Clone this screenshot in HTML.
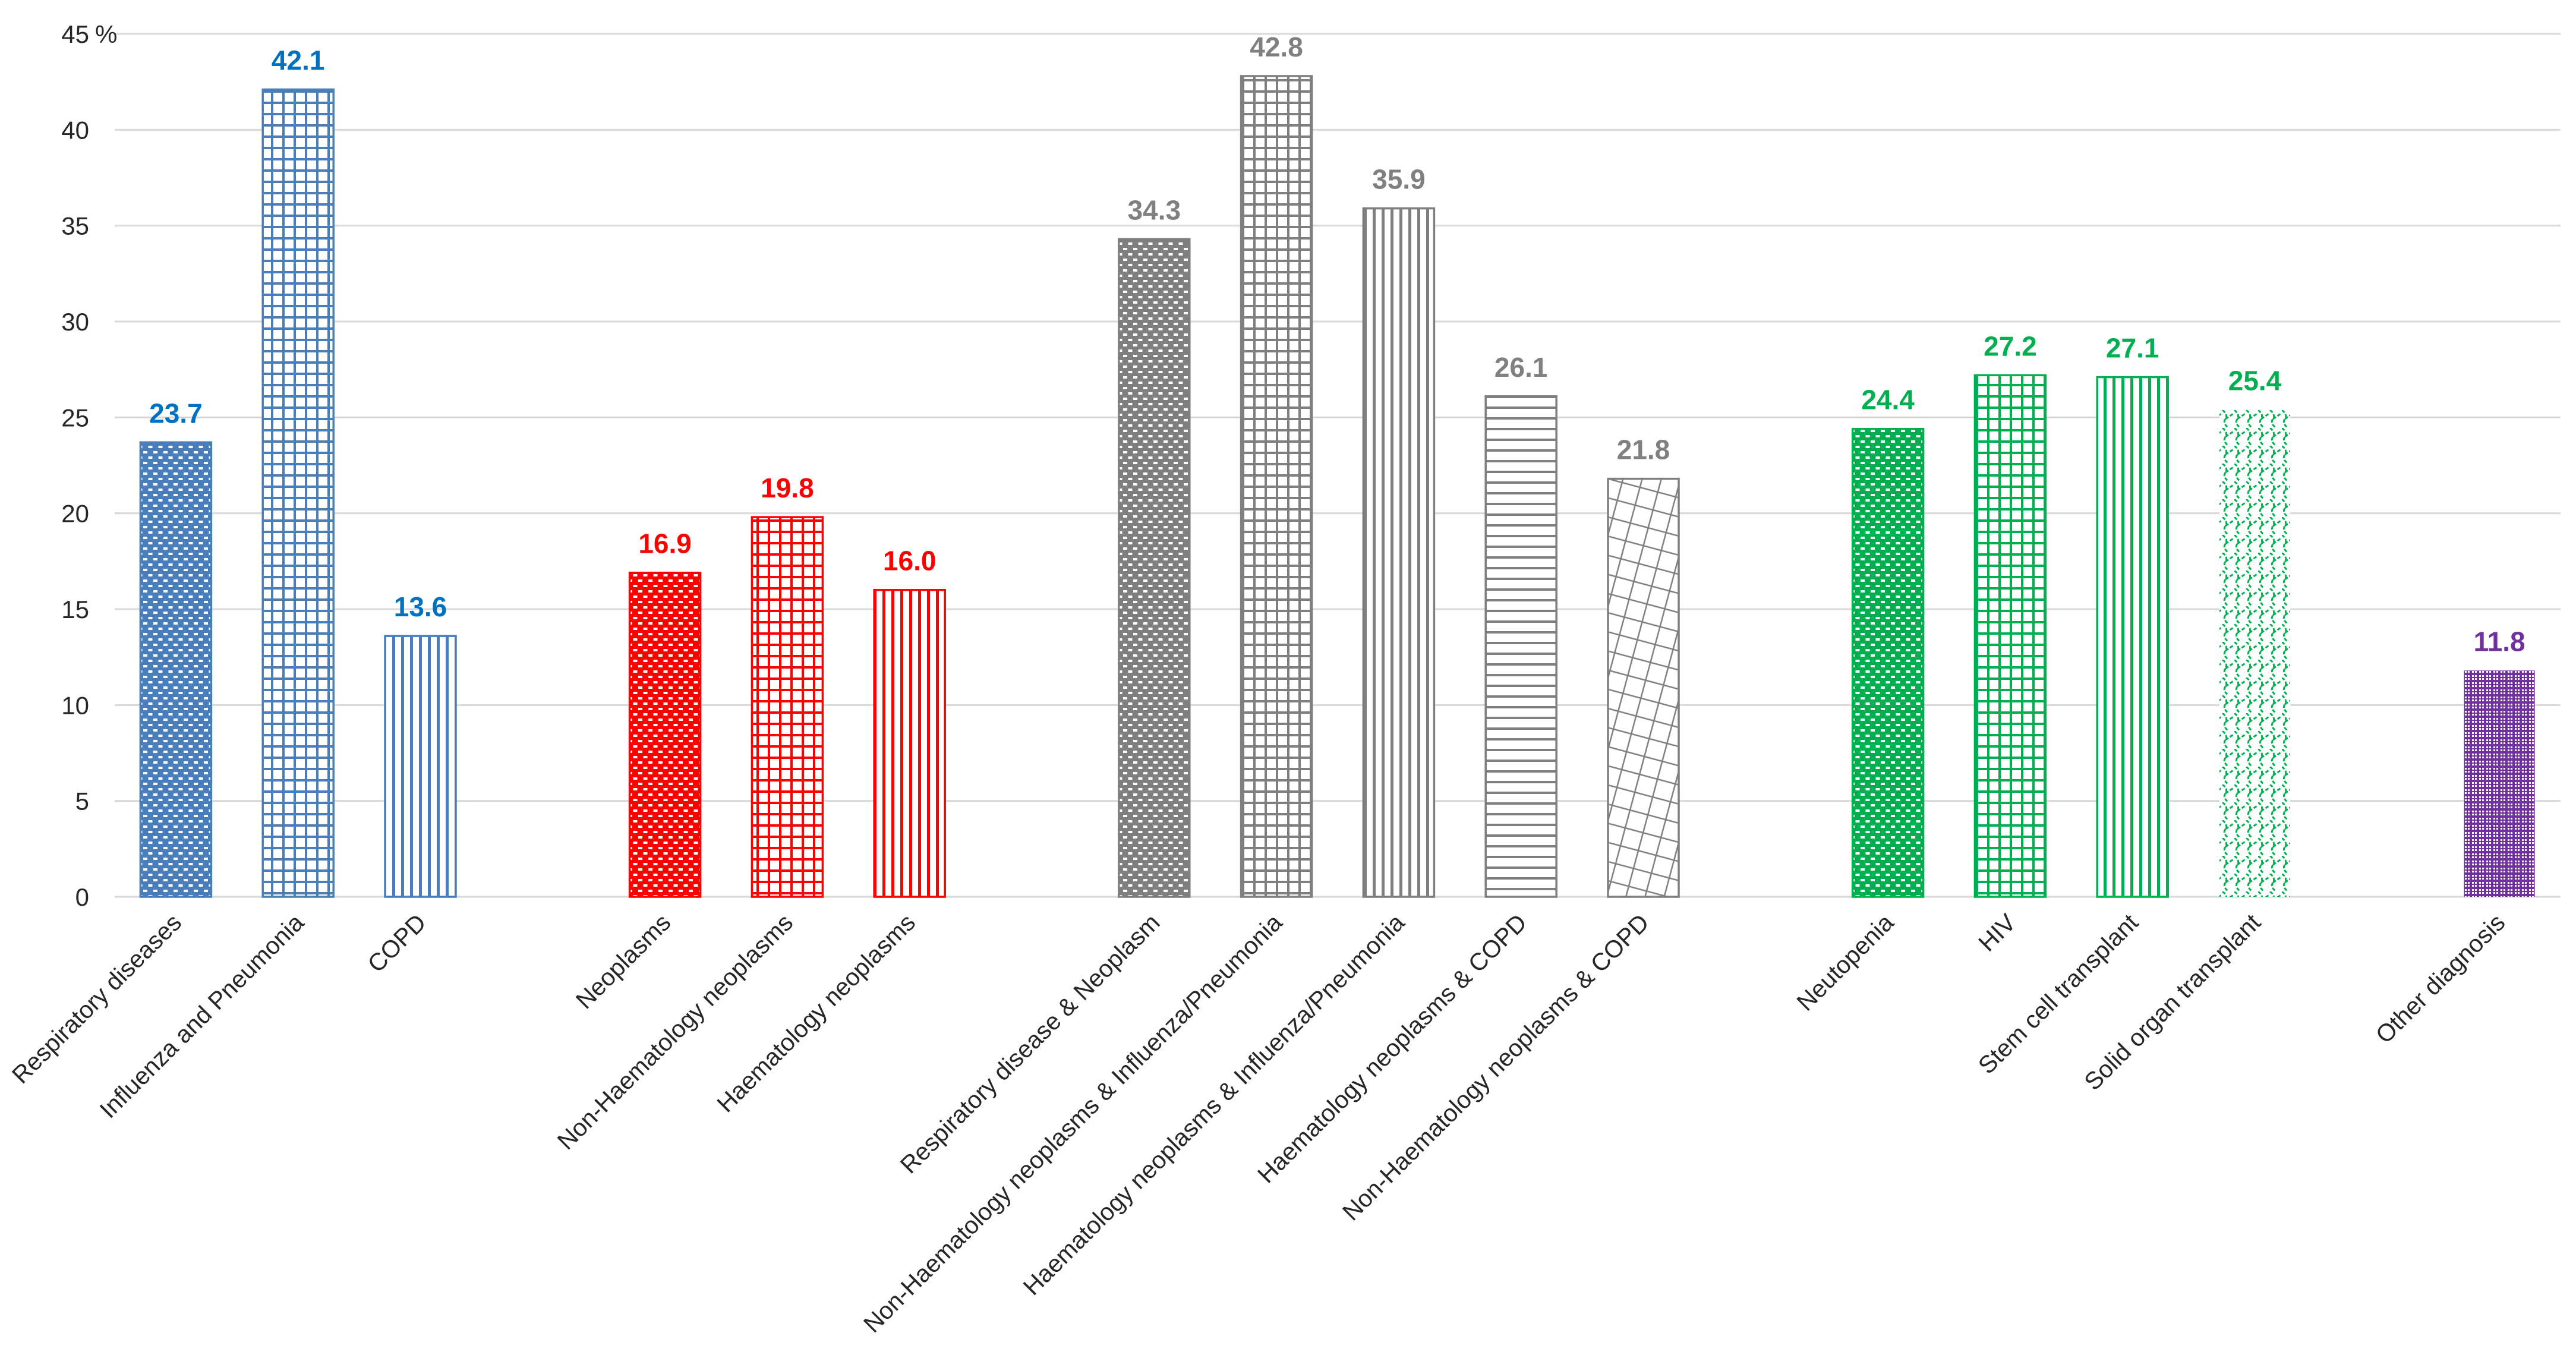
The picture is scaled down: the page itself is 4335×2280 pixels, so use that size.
<!DOCTYPE html>
<html><head><meta charset="utf-8"><style>
html,body{margin:0;padding:0;background:#fff;}
svg{display:block;font-family:"Liberation Sans",sans-serif;}
</style></head><body>
<svg id="chart" width="4335" height="2280" viewBox="0 0 4335 2280" xmlns="http://www.w3.org/2000/svg">
<defs id="defs"></defs>
<g id="grid"></g>
<g id="yaxis"></g>
<g id="bars"></g>
<g id="vlabels"></g>
<g id="xaxis"></g>
</svg>
<script>
const categories = ["Respiratory diseases","Influenza and Pneumonia","COPD","Neoplasms","Non-Haematology neoplasms","Haematology neoplasms","Respiratory disease & Neoplasm","Non-Haematology neoplasms & Influenza/Pneumonia","Haematology neoplasms & Influenza/Pneumonia","Haematology neoplasms & COPD","Non-Haematology neoplasms & COPD","Neutopenia","HIV","Stem cell transplant","Solid organ transplant","Other diagnosis"];
const values = [23.7,42.1,13.6,16.9,19.8,16.0,34.3,42.8,35.9,26.1,21.8,24.4,27.2,27.1,25.4,11.8];
const groups = [0,0,0,1,1,1,2,2,2,2,2,3,3,3,3,4];
const patterns = ["dots","grid","vert","dots","grid","vert","dots","grid","vert","horiz","lattice","dots","grid","vert","wave","diamond"];
const yTicks = [0,5,10,15,20,25,30,35,40,45];
const groupColors = ["#4a7ebb","#ff0000","#7f7f7f","#00b050","#7030a0"];
const labelColors = ["#0070c0","#ff0000","#808080","#00b050","#7030a0"];

const NS="http://www.w3.org/2000/svg";
const x0=193, slotW=205.8, barW=119, y0=1509, yMax=45, yTop=57;
function y(v){return y0-(v/yMax)*(y0-yTop);}
function slot(i){return i+groups[i];}
function xc(i){return x0+slotW*(slot(i)+0.5);}
function mk(tag,attrs,parent){const e=document.createElementNS(NS,tag);for(const k in attrs)e.setAttribute(k,attrs[k]);parent.appendChild(e);return e;}
const defs=document.getElementById('defs');

function makePattern(id,type,c){
  let p;
  if(type==="dots"){
    p=mk('pattern',{id:id,width:17,height:18,patternUnits:'userSpaceOnUse'},defs);
    mk('rect',{width:17,height:18,fill:c},p);
    mk('rect',{x:3,y:3,width:7,height:4,fill:'#fff'},p);
    mk('rect',{x:11.5,y:12,width:7,height:4,fill:'#fff'},p);
    mk('rect',{x:-5.5,y:12,width:7,height:4,fill:'#fff'},p);
  } else if(type==="grid"){
    p=mk('pattern',{id:id,width:19,height:19,patternUnits:'userSpaceOnUse'},defs);
    mk('rect',{width:19,height:19,fill:'#fff'},p);
    mk('rect',{x:0,y:0,width:19,height:4,fill:c},p);
    mk('rect',{x:0,y:0,width:4,height:19,fill:c},p);
  } else if(type==="vert"){
    p=mk('pattern',{id:id,width:15,height:15,patternUnits:'userSpaceOnUse'},defs);
    mk('rect',{width:15,height:15,fill:'#fff'},p);
    mk('rect',{x:0,y:0,width:5,height:15,fill:c},p);
  } else if(type==="horiz"){
    p=mk('pattern',{id:id,width:18,height:18,patternUnits:'userSpaceOnUse'},defs);
    mk('rect',{width:18,height:18,fill:'#fff'},p);
    mk('rect',{x:0,y:0,width:18,height:4,fill:c},p);
  } else if(type==="lattice"){
    p=mk('pattern',{id:id,width:44,height:44,patternUnits:'userSpaceOnUse',patternTransform:'rotate(-30)'},defs);
    mk('rect',{width:44,height:44,fill:'#fff'},p);
    mk('path',{d:'M0 22 L22 0 L44 22 L22 44 Z',fill:'none',stroke:c,'stroke-width':2.5},p);
  } else if(type==="wave"){
    p=mk('pattern',{id:id,width:40,height:30,patternUnits:'userSpaceOnUse'},defs);
    mk('rect',{width:40,height:30,fill:'#fff'},p);
    mk('path',{d:'M0 0 Q10 8 5 15 Q0 22 10 30 M20 0 Q30 8 25 15 Q20 22 30 30 M5 15 L20 5 M25 15 L40 5',fill:'none',stroke:c,'stroke-width':3,'stroke-dasharray':'6 3'},p);
  } else {
    p=mk('pattern',{id:id,width:12,height:12,patternUnits:'userSpaceOnUse'},defs);
    mk('rect',{width:12,height:12,fill:c},p);
    mk('rect',{x:1,y:1,width:3,height:3,fill:'#fff'},p);
    mk('rect',{x:8,y:1,width:3,height:3,fill:'#fff'},p);
    mk('rect',{x:1,y:8,width:3,height:3,fill:'#fff'},p);
    mk('rect',{x:8,y:8,width:3,height:3,fill:'#fff'},p);
  }
}

const grid=document.getElementById('grid'), yaxis=document.getElementById('yaxis');
const plotRight=x0+slotW*20;
yTicks.forEach(t=>{
  const gl=mk('line',{x1:x0,x2:plotRight,y1:y(t),y2:y(t),stroke:'#d9d9d9','stroke-width':3},grid);
  
  
  const tx=mk('text',{x:150,y:y(t)+15,'font-size':42,fill:'#262626','text-anchor':'end'},yaxis);
  tx.textContent=String(t);
  
  
  if(t===yMax){
    const pc=mk('text',{x:160,y:y(t)+15,'font-size':42,fill:'#262626'},yaxis);
    pc.textContent='%';
    
    
  }
});

const bars=document.getElementById('bars'), vl=document.getElementById('vlabels'), xa=document.getElementById('xaxis');
values.forEach((v,i)=>{
  const c=groupColors[groups[i]];
  const pid='pat'+i;
  makePattern(pid,patterns[i],c);
  const cx=xc(i);
  const noBorder=(patterns[i]==="wave"||patterns[i]==="diamond");
  const r=mk('rect',{x:cx-barW/2,y:y(v),width:barW,height:y0-y(v),fill:'url(#'+pid+')',stroke:noBorder?'none':c,'stroke-width':3.5},bars);
  
  
  const t=mk('text',{x:cx,y:y(v)-33,'font-size':46,'font-weight':'bold',fill:labelColors[groups[i]],'text-anchor':'middle'},vl);
  t.textContent=v.toFixed(1);
  
  
  const lx=cx+12, ly=y0+46;
  const ct=mk('text',{x:lx,y:ly,'font-size':41,fill:'#262626','text-anchor':'end',transform:'rotate(-45 '+lx+' '+ly+')'},xa);
  ct.textContent=categories[i];
  
  
});
</script>
</body></html>
